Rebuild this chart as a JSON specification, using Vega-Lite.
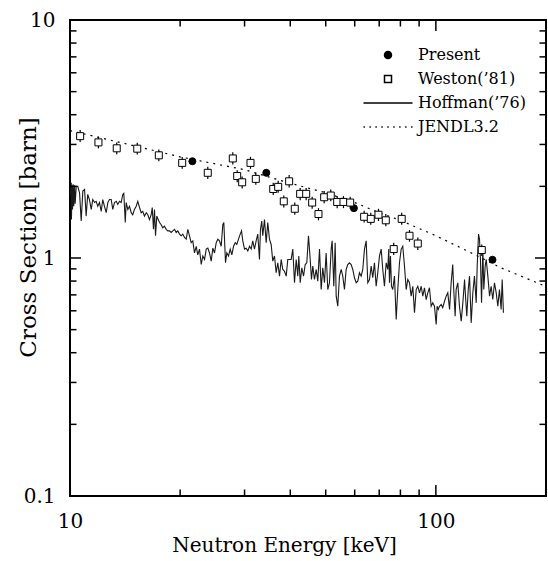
{
  "$schema": "https://vega.github.io/schema/vega-lite/v6.json",
  "width": 476,
  "height": 476,
  "autosize": {"type": "none"},
  "padding": {"left": 70, "top": 20, "right": 2, "bottom": 65},
  "background": "white",
  "config": {
    "view": {"stroke": "black", "strokeWidth": 2},
    "font": "DejaVu Serif",
    "scale": {"continuousPadding": 0},
    "axis": {"domain": false, "ticks": false, "grid": false, "labelColor": "black", "titleColor": "black", "labelFont": "DejaVu Serif", "titleFont": "DejaVu Serif", "labelFontSize": 20, "titleFontSize": 20, "titleFontWeight": "normal", "labelFlush": false, "labelOverlap": false}
  },
  "datasets": {
    "hoff": [
      {"E":10.03,"CS":1.85},{"E":10.08,"CS":2.07},{"E":10.09,"CS":1.45},{"E":10.14,"CS":2.02},{"E":10.16,"CS":1.60},{"E":10.20,"CS":2.04},{"E":10.24,"CS":1.65},{"E":10.29,"CS":2.02},{"E":10.33,"CS":1.69},{"E":10.40,"CS":2.00},
      {"E":10.50,"CS":2.00},{"E":10.62,"CS":1.88},{"E":10.73,"CS":1.43},{"E":10.84,"CS":1.91},{"E":10.96,"CS":1.94},{"E":11.07,"CS":1.50},{"E":11.18,"CS":1.85},{"E":11.30,"CS":1.76},{"E":11.43,"CS":1.60},{"E":11.54,"CS":1.76},
      {"E":11.67,"CS":1.71},{"E":11.79,"CS":1.73},{"E":11.91,"CS":1.65},{"E":12.04,"CS":1.71},{"E":12.17,"CS":1.57},{"E":12.29,"CS":1.76},{"E":12.42,"CS":1.65},{"E":12.56,"CS":1.55},{"E":12.69,"CS":1.71},{"E":12.82,"CS":1.76},
      {"E":12.96,"CS":1.76},{"E":13.09,"CS":1.60},{"E":13.23,"CS":1.71},{"E":13.38,"CS":1.73},{"E":13.51,"CS":1.68},{"E":13.66,"CS":1.73},{"E":13.80,"CS":1.71},{"E":13.94,"CS":1.85},{"E":14.03,"CS":1.87},{"E":14.16,"CS":1.41},
      {"E":14.24,"CS":1.71},{"E":14.39,"CS":1.60},{"E":14.54,"CS":1.65},{"E":14.70,"CS":1.55},{"E":14.84,"CS":1.52},{"E":15.00,"CS":1.60},{"E":15.17,"CS":1.65},{"E":15.32,"CS":1.73},{"E":15.49,"CS":1.63},{"E":15.65,"CS":1.55},
      {"E":15.81,"CS":1.57},{"E":15.98,"CS":1.50},{"E":16.16,"CS":1.55},{"E":16.32,"CS":1.52},{"E":16.49,"CS":1.45},{"E":16.67,"CS":1.52},{"E":16.78,"CS":1.63},{"E":16.91,"CS":1.32},{"E":17.02,"CS":1.60},{"E":17.13,"CS":1.24},
      {"E":17.27,"CS":1.50},{"E":17.42,"CS":1.45},{"E":17.57,"CS":1.41},{"E":17.75,"CS":1.38},{"E":17.93,"CS":1.34},{"E":18.12,"CS":1.36},{"E":18.32,"CS":1.32},{"E":18.50,"CS":1.30},{"E":18.70,"CS":1.30},{"E":18.90,"CS":1.28},
      {"E":19.10,"CS":1.30},{"E":19.31,"CS":1.32},{"E":19.51,"CS":1.28},{"E":19.71,"CS":1.30},{"E":19.92,"CS":1.26},{"E":20.14,"CS":1.24},{"E":20.34,"CS":1.26},{"E":20.56,"CS":1.22},{"E":20.78,"CS":1.20},{"E":20.99,"CS":1.32},
      {"E":21.21,"CS":1.24},{"E":21.44,"CS":1.16},{"E":21.66,"CS":1.18},{"E":21.89,"CS":1.05},{"E":22.13,"CS":1.12},{"E":22.35,"CS":1.03},{"E":22.59,"CS":1.09},{"E":22.84,"CS":0.939},{"E":23.07,"CS":1.02},{"E":23.32,"CS":0.986},
      {"E":23.57,"CS":1.09},{"E":23.81,"CS":1.10},{"E":24.06,"CS":1.05},{"E":24.32,"CS":0.970},{"E":24.57,"CS":1.10},{"E":24.83,"CS":1.05},{"E":25.10,"CS":1.16},{"E":25.35,"CS":1.20},{"E":25.62,"CS":1.18},{"E":25.90,"CS":1.12},
      {"E":26.16,"CS":1.38},{"E":26.33,"CS":1.41},{"E":26.61,"CS":0.955},{"E":26.83,"CS":1.05},{"E":27.12,"CS":1.02},{"E":27.41,"CS":1.09},{"E":27.69,"CS":1.03},{"E":27.99,"CS":1.12},{"E":28.29,"CS":1.16},{"E":28.57,"CS":1.14},
      {"E":28.88,"CS":1.20},{"E":29.19,"CS":1.26},{"E":29.43,"CS":1.30},{"E":29.67,"CS":1.18},{"E":29.99,"CS":1.09},{"E":30.31,"CS":1.10},{"E":30.62,"CS":1.07},{"E":30.95,"CS":1.12},{"E":31.28,"CS":1.09},{"E":31.59,"CS":1.18},
      {"E":31.93,"CS":1.09},{"E":32.27,"CS":1.18},{"E":32.60,"CS":1.26},{"E":32.95,"CS":0.986},{"E":33.16,"CS":1.32},{"E":33.43,"CS":1.43},{"E":33.64,"CS":1.24},{"E":34.01,"CS":1.45},{"E":34.37,"CS":1.16},{"E":34.72,"CS":1.41},
      {"E":35.09,"CS":1.20},{"E":35.47,"CS":1.14},{"E":35.83,"CS":0.970},{"E":36.22,"CS":1.02},{"E":36.60,"CS":0.867},{"E":36.98,"CS":0.955},{"E":37.38,"CS":0.839},{"E":37.78,"CS":0.986},{"E":38.16,"CS":0.895},{"E":38.57,"CS":0.880},
      {"E":38.99,"CS":0.839},{"E":39.38,"CS":0.986},{"E":40.23,"CS":0.986},{"E":40.64,"CS":1.09},{"E":41.08,"CS":0.787},{"E":41.52,"CS":0.986},{"E":41.94,"CS":0.839},{"E":42.21,"CS":1.02},{"E":42.58,"CS":0.787},{"E":43.01,"CS":0.910},
      {"E":43.48,"CS":0.839},{"E":43.94,"CS":0.939},{"E":44.39,"CS":0.955},{"E":44.86,"CS":1.24},{"E":45.35,"CS":0.986},{"E":45.71,"CS":0.812},{"E":46.09,"CS":0.924},{"E":46.58,"CS":0.812},{"E":47.09,"CS":0.895},{"E":47.56,"CS":0.799},
      {"E":48.08,"CS":1.09},{"E":48.59,"CS":0.737},{"E":49.08,"CS":0.910},{"E":49.61,"CS":0.787},{"E":50.13,"CS":1.05},{"E":50.65,"CS":0.737},{"E":51.19,"CS":0.787},{"E":51.74,"CS":1.09},{"E":52.06,"CS":1.18},{"E":52.60,"CS":0.761},
      {"E":53.06,"CS":1.16},{"E":53.40,"CS":0.691},{"E":53.94,"CS":0.627},{"E":54.52,"CS":0.839},{"E":55.11,"CS":0.895},{"E":55.66,"CS":0.839},{"E":56.26,"CS":0.737},{"E":56.86,"CS":0.895},{"E":57.44,"CS":0.939},{"E":58.06,"CS":0.955},
      {"E":58.68,"CS":0.939},{"E":59.28,"CS":0.895},{"E":59.91,"CS":0.826},{"E":60.56,"CS":0.787},{"E":61.18,"CS":0.799},{"E":61.83,"CS":0.867},{"E":62.49,"CS":0.839},{"E":63.13,"CS":0.895},{"E":63.81,"CS":1.09},{"E":64.50,"CS":1.18},
      {"E":65.15,"CS":0.787},{"E":65.85,"CS":0.812},{"E":66.56,"CS":0.924},{"E":67.22,"CS":0.826},{"E":67.95,"CS":0.955},{"E":68.68,"CS":0.761},{"E":69.38,"CS":0.867},{"E":70.13,"CS":1.02},{"E":70.88,"CS":1.09},{"E":71.60,"CS":0.895},
      {"E":72.36,"CS":0.761},{"E":73.15,"CS":0.955},{"E":73.88,"CS":0.895},{"E":74.35,"CS":1.09},{"E":74.68,"CS":0.787},{"E":75.15,"CS":1.02},{"E":75.63,"CS":0.761},{"E":76.24,"CS":0.737},{"E":77.07,"CS":0.839},{"E":77.90,"CS":0.552},
      {"E":78.69,"CS":0.737},{"E":79.53,"CS":0.955},{"E":80.39,"CS":1.09},{"E":81.20,"CS":1.12},{"E":82.08,"CS":0.924},{"E":82.96,"CS":0.737},{"E":83.80,"CS":0.812},{"E":84.70,"CS":0.787},{"E":85.61,"CS":0.691},{"E":86.49,"CS":0.761},
      {"E":87.41,"CS":0.589},{"E":88.36,"CS":0.737},{"E":89.25,"CS":0.761},{"E":90.22,"CS":0.714},{"E":91.18,"CS":0.761},{"E":92.10,"CS":0.691},{"E":93.08,"CS":0.750},{"E":94.08,"CS":0.669},{"E":95.04,"CS":0.714},{"E":96.05,"CS":0.750},
      {"E":97.10,"CS":0.627},{"E":98.06,"CS":0.648},{"E":99.13,"CS":0.627},{"E":100.2,"CS":0.526},{"E":100.8,"CS":0.627},{"E":101.5,"CS":0.608},{"E":102.3,"CS":0.627},{"E":103.4,"CS":0.638},{"E":104.4,"CS":0.618},{"E":105.6,"CS":0.658},
      {"E":106.7,"CS":0.691},{"E":107.8,"CS":0.714},{"E":109.0,"CS":0.608},{"E":110.1,"CS":0.787},{"E":111.2,"CS":0.939},{"E":111.9,"CS":0.737},{"E":112.9,"CS":0.569},{"E":113.6,"CS":0.737},{"E":114.8,"CS":0.787},{"E":116.0,"CS":0.627},
      {"E":117.3,"CS":0.543},{"E":118.5,"CS":0.648},{"E":119.8,"CS":0.812},{"E":120.5,"CS":0.691},{"E":121.5,"CS":0.569},{"E":122.6,"CS":0.737},{"E":123.6,"CS":0.839},{"E":124.9,"CS":0.534},{"E":126.2,"CS":0.714},{"E":127.5,"CS":0.839},
      {"E":128.9,"CS":0.648},{"E":129.7,"CS":0.924},{"E":130.8,"CS":1.26},{"E":131.6,"CS":1.20},{"E":132.4,"CS":0.986},{"E":133.3,"CS":0.648},{"E":134.4,"CS":1.09},{"E":135.2,"CS":0.737},{"E":136.4,"CS":0.924},{"E":137.3,"CS":0.986},
      {"E":138.7,"CS":0.839},{"E":140.2,"CS":0.691},{"E":141.6,"CS":0.761},{"E":143.1,"CS":0.669},{"E":144.6,"CS":0.787},{"E":146.2,"CS":0.714},{"E":147.7,"CS":0.627},{"E":149.2,"CS":0.737},{"E":150.8,"CS":0.608},{"E":151.8,"CS":0.812},
      {"E":153.0,"CS":0.589}
    ],
    "jendl": [
      {"E":10,"CS":3.43},{"E":15,"CS":2.96},{"E":20,"CS":2.66},{"E":30,"CS":2.35},{"E":40,"CS":2.06},{"E":50,"CS":1.88},{"E":60,"CS":1.71},{"E":70,"CS":1.55},{"E":80,"CS":1.44},{"E":100,"CS":1.24},{"E":130,"CS":1.02},{"E":150,"CS":0.912},{"E":200,"CS":0.759}
    ],
    "pts": [
      {"series":"Present","E":21.6,"CS":2.55},
      {"series":"Present","E":34.4,"CS":2.28},
      {"series":"Present","E":59.7,"CS":1.62},
      {"series":"Present","E":142.8,"CS":0.983},
      {"series":"Weston(’81)","E":10.66,"CS":3.25,"lo":3.07,"hi":3.45},
      {"series":"Weston(’81)","E":11.96,"CS":3.06,"lo":2.89,"hi":3.24},
      {"series":"Weston(’81)","E":13.42,"CS":2.89,"lo":2.73,"hi":3.06},
      {"series":"Weston(’81)","E":15.27,"CS":2.88,"lo":2.72,"hi":3.05},
      {"series":"Weston(’81)","E":17.49,"CS":2.70,"lo":2.55,"hi":2.86},
      {"series":"Weston(’81)","E":20.26,"CS":2.51,"lo":2.37,"hi":2.66},
      {"series":"Weston(’81)","E":23.80,"CS":2.28,"lo":2.15,"hi":2.42},
      {"series":"Weston(’81)","E":27.86,"CS":2.62,"lo":2.47,"hi":2.78},
      {"series":"Weston(’81)","E":28.64,"CS":2.21,"lo":2.08,"hi":2.34},
      {"series":"Weston(’81)","E":29.55,"CS":2.08,"lo":1.96,"hi":2.20},
      {"series":"Weston(’81)","E":31.14,"CS":2.51,"lo":2.37,"hi":2.66},
      {"series":"Weston(’81)","E":32.20,"CS":2.15,"lo":2.03,"hi":2.28},
      {"series":"Weston(’81)","E":35.93,"CS":1.95,"lo":1.84,"hi":2.07},
      {"series":"Weston(’81)","E":37.07,"CS":1.99,"lo":1.88,"hi":2.11},
      {"series":"Weston(’81)","E":38.40,"CS":1.73,"lo":1.63,"hi":1.83},
      {"series":"Weston(’81)","E":39.72,"CS":2.10,"lo":1.98,"hi":2.23},
      {"series":"Weston(’81)","E":41.15,"CS":1.61,"lo":1.52,"hi":1.71},
      {"series":"Weston(’81)","E":42.57,"CS":1.86,"lo":1.75,"hi":1.97},
      {"series":"Weston(’81)","E":44.21,"CS":1.86,"lo":1.75,"hi":1.97},
      {"series":"Weston(’81)","E":45.91,"CS":1.71,"lo":1.61,"hi":1.81},
      {"series":"Weston(’81)","E":47.77,"CS":1.53,"lo":1.44,"hi":1.62},
      {"series":"Weston(’81)","E":49.51,"CS":1.80,"lo":1.70,"hi":1.91},
      {"series":"Weston(’81)","E":51.61,"CS":1.83,"lo":1.73,"hi":1.94},
      {"series":"Weston(’81)","E":53.73,"CS":1.72,"lo":1.62,"hi":1.82},
      {"series":"Weston(’81)","E":55.91,"CS":1.72,"lo":1.62,"hi":1.82},
      {"series":"Weston(’81)","E":58.32,"CS":1.71,"lo":1.61,"hi":1.81},
      {"series":"Weston(’81)","E":63.68,"CS":1.49,"lo":1.41,"hi":1.58},
      {"series":"Weston(’81)","E":66.39,"CS":1.46,"lo":1.38,"hi":1.55},
      {"series":"Weston(’81)","E":69.68,"CS":1.52,"lo":1.43,"hi":1.61},
      {"series":"Weston(’81)","E":72.97,"CS":1.44,"lo":1.36,"hi":1.53},
      {"series":"Weston(’81)","E":76.70,"CS":1.09,"lo":1.03,"hi":1.16},
      {"series":"Weston(’81)","E":80.65,"CS":1.46,"lo":1.38,"hi":1.55},
      {"series":"Weston(’81)","E":84.71,"CS":1.24,"lo":1.17,"hi":1.31},
      {"series":"Weston(’81)","E":89.25,"CS":1.15,"lo":1.08,"hi":1.22},
      {"series":"Weston(’81)","E":133.5,"CS":1.08,"lo":1.02,"hi":1.14}
    ],
    "xminor": [{"v":20},{"v":30},{"v":40},{"v":50},{"v":60},{"v":70},{"v":80},{"v":90}],
    "xmajor": [{"v":100}],
    "yminor": [{"v":0.2},{"v":0.3},{"v":0.4},{"v":0.5},{"v":0.6},{"v":0.7},{"v":0.8},{"v":0.9},{"v":2},{"v":3},{"v":4},{"v":5},{"v":6},{"v":7},{"v":8},{"v":9}],
    "ymajor": [{"v":1}]
  },
  "resolve": {"scale": {"x": "shared", "y": "shared"}, "axis": {"x": "independent", "y": "independent"}},
  "layer": [
    {
      "data": {"name": "hoff"},
      "mark": {"type": "line", "stroke": "#1a1a1a", "strokeWidth": 1.1},
      "encoding": {
        "x": {"field": "E", "type": "quantitative", "scale": {"type": "log", "domain": [10, 200], "nice": false, "padding": 0},
              "axis": {"orient": "bottom", "values": [10, 100], "format": "~g", "labelPadding": 15, "title": "Neutron Energy [keV]", "titleX": 214, "titleY": 55, "titleBaseline": "alphabetic", "titleAlign": "center"}},
        "y": {"field": "CS", "type": "quantitative", "scale": {"type": "log", "domain": [0.1, 10], "nice": false, "padding": 0},
              "axis": {"orient": "left", "values": [0.1, 1, 10], "format": "~g", "labelPadding": 15, "title": "Cross Section [barn]", "titleFontSize": 23, "titleX": -42, "titleY": 217, "titleAngle": 270, "titleBaseline": "middle", "titleAlign": "center"}}
      }
    },
    {
      "data": {"name": "jendl"},
      "mark": {"type": "line", "stroke": "black", "strokeWidth": 1.2, "strokeDash": [2, 5]},
      "encoding": {
        "x": {"field": "E", "type": "quantitative", "axis": null},
        "y": {"field": "CS", "type": "quantitative", "axis": null}
      }
    },
    {
      "data": {"name": "pts"},
      "mark": {"type": "bar", "orient": "vertical", "size": 1.2, "color": "black", "opacity": 1},
      "encoding": {
        "x": {"field": "E", "type": "quantitative", "axis": null},
        "y": {"field": "lo", "type": "quantitative", "axis": null},
        "y2": {"field": "hi"}
      }
    },
    {
      "data": {"name": "pts"},
      "mark": {"type": "point", "stroke": "black", "strokeWidth": 1, "opacity": 1, "size": 49},
      "encoding": {
        "x": {"field": "E", "type": "quantitative", "axis": null},
        "y": {"field": "CS", "type": "quantitative", "axis": null},
        "shape": {"field": "series", "type": "nominal",
          "scale": {"domain": ["Present", "Weston(’81)", "Hoffman(’76)", "JENDL3.2"], "range": ["circle", "square", "M-7,0H7", "M-7,0h0.4M-5.3,0h0.4M-3.6,0h0.4M-1.9,0h0.4M-0.2,0h0.4M1.5,0h0.4M3.2,0h0.4M4.9,0h0.4M6.6,0h0.4"]},
          "legend": {"orient": "none", "legendX": 310, "legendY": 27, "title": null, "padding": 0, "labelFontSize": 16, "labelFont": "DejaVu Serif", "labelColor": "black", "labelOffset": 22, "rowPadding": 8, "symbolSize": 49,
            "encode": {"symbols": {"update": {"stroke": {"value": "black"}, "strokeWidth": {"value": 1}, "opacity": {"value": 1}}}}}},
        "fill": {"field": "series", "type": "nominal",
          "scale": {"domain": ["Present", "Weston(’81)", "Hoffman(’76)", "JENDL3.2"], "range": ["black", "white", "transparent", "transparent"]},
          "legend": {"orient": "none", "legendX": 310, "legendY": 27, "title": null, "padding": 0, "labelFontSize": 16, "labelFont": "DejaVu Serif", "labelColor": "black", "labelOffset": 22, "rowPadding": 8, "symbolSize": 49,
            "encode": {"symbols": {"update": {"stroke": {"value": "black"}, "strokeWidth": {"value": 1}, "opacity": {"value": 1}}}}}}
      }
    },
    {
      "data": {"name": "xminor"},
      "mark": {"type": "point", "shape": "M0,0V-1", "size": 169, "filled": false, "stroke": "black", "strokeWidth": 1.5, "opacity": 1},
      "encoding": {"x": {"field": "v", "type": "quantitative", "axis": null}, "y": {"datum": 0.1, "type": "quantitative", "axis": null}}
    },
    {
      "data": {"name": "xminor"},
      "mark": {"type": "point", "shape": "M0,0V1", "size": 169, "filled": false, "stroke": "black", "strokeWidth": 1.5, "opacity": 1},
      "encoding": {"x": {"field": "v", "type": "quantitative", "axis": null}, "y": {"datum": 10, "type": "quantitative", "axis": null}}
    },
    {
      "data": {"name": "xmajor"},
      "mark": {"type": "point", "shape": "M0,0V-1", "size": 484, "filled": false, "stroke": "black", "strokeWidth": 1.5, "opacity": 1},
      "encoding": {"x": {"field": "v", "type": "quantitative", "axis": null}, "y": {"datum": 0.1, "type": "quantitative", "axis": null}}
    },
    {
      "data": {"name": "xmajor"},
      "mark": {"type": "point", "shape": "M0,0V1", "size": 484, "filled": false, "stroke": "black", "strokeWidth": 1.5, "opacity": 1},
      "encoding": {"x": {"field": "v", "type": "quantitative", "axis": null}, "y": {"datum": 10, "type": "quantitative", "axis": null}}
    },
    {
      "data": {"name": "yminor"},
      "mark": {"type": "point", "shape": "M0,0H1", "size": 169, "filled": false, "stroke": "black", "strokeWidth": 1.5, "opacity": 1},
      "encoding": {"y": {"field": "v", "type": "quantitative", "axis": null}, "x": {"datum": 10, "type": "quantitative", "axis": null}}
    },
    {
      "data": {"name": "yminor"},
      "mark": {"type": "point", "shape": "M0,0H-1", "size": 169, "filled": false, "stroke": "black", "strokeWidth": 1.5, "opacity": 1},
      "encoding": {"y": {"field": "v", "type": "quantitative", "axis": null}, "x": {"datum": 200, "type": "quantitative", "axis": null}}
    },
    {
      "data": {"name": "ymajor"},
      "mark": {"type": "point", "shape": "M0,0H1", "size": 484, "filled": false, "stroke": "black", "strokeWidth": 1.5, "opacity": 1},
      "encoding": {"y": {"field": "v", "type": "quantitative", "axis": null}, "x": {"datum": 10, "type": "quantitative", "axis": null}}
    },
    {
      "data": {"name": "ymajor"},
      "mark": {"type": "point", "shape": "M0,0H-1", "size": 484, "filled": false, "stroke": "black", "strokeWidth": 1.5, "opacity": 1},
      "encoding": {"y": {"field": "v", "type": "quantitative", "axis": null}, "x": {"datum": 200, "type": "quantitative", "axis": null}}
    }
  ]
}
